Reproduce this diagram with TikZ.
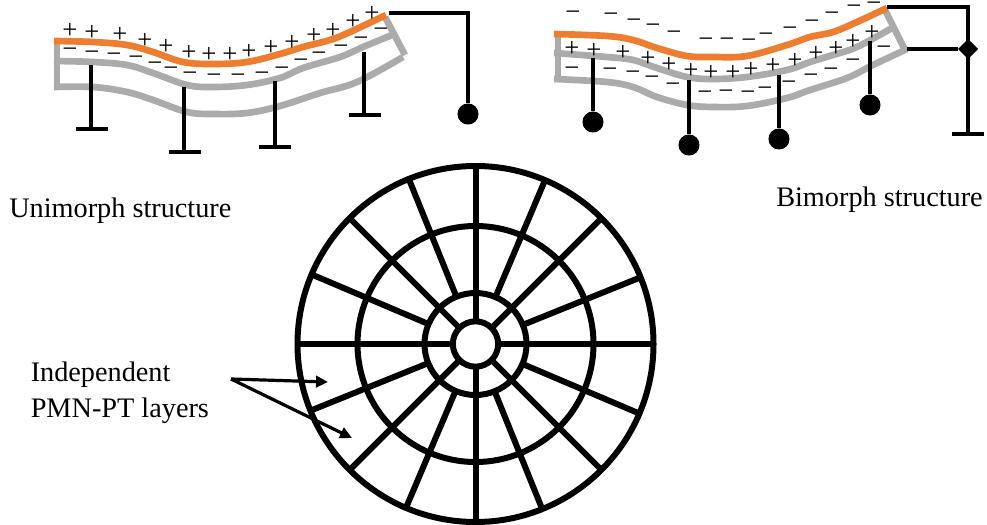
\documentclass[tikz,border=0pt]{standalone}
\usepackage{fontspec}
\setmainfont{Liberation Serif}
\usetikzlibrary{arrows.meta,shapes.geometric}
\definecolor{beamorange}{HTML}{ED7D31}
\definecolor{beamgray}{HTML}{ABABAB}
\newcommand{\chg}[2]{\foreach \p/\q in {#2} \node[chargemark] at (\p,\q) {#1};}
\tikzset{
  x=0.75pt,y=-0.75pt,
  chargemark/.style={inner sep=0pt,outer sep=0pt,font=\fontsize{20pt}{20pt}\selectfont},
  elec/.style={line width=5pt,draw=beamorange,line join=round},
  layer/.style={line width=5pt,draw=beamgray,line join=round},
  stem/.style={line width=3.6pt,draw=black},
  wire/.style={line width=3.4pt,draw=black,line join=miter},
  foot/.style={fill=black,draw=none,rectangle,inner sep=0pt,outer sep=0pt,minimum width=24pt,minimum height=3.5pt},
  dot/.style={fill=black,draw=none,circle,inner sep=0pt,outer sep=0pt,minimum size=15.8pt},
  ring/.style={circle,draw=black,line width=4.5pt,inner sep=0pt,outer sep=0pt},
  spoke/.style={line width=4.5pt,draw=black},
  lab/.style={anchor=base west,inner sep=0pt,font=\fontsize{21.2pt}{21.2pt}\selectfont},
  pointer/.style={line width=2.4pt,draw=black,-{Triangle[length=9pt,width=8.5pt]}}
}
\begin{document}
\begin{tikzpicture}
\useasboundingbox (0,0) rectangle (987,524);
% ---------- Unimorph
\draw[layer] plot[smooth,tension=0.6] coordinates {(54,61)(93,62)(127,65)(153,73)(187,85)(213,87)(247,85)(280,78)(303,68)(340,57)(363,47)(392,35)};
\draw[layer] plot[smooth,tension=0.6] coordinates {(54,87)(93,87)(127,92)(153,100)(187,112)(213,114)(247,113)(280,106)(320,93)(357,82)(403,57)};
\draw[layer] (57,40) -- (57,87);
\draw[layer] (385,17) -- (405,55);
\draw[elec] plot[smooth,tension=0.6] coordinates {(54,41)(93,42)(127,45)(153,52)(183,62)(213,64)(247,62)(280,54)(303,47)(330,40)(350,32)(386,15)};
\chg{+}{70/31,92/33,120/35,145/41,166/47,189/53,209/55,230/55,249/52,271/48,292/43,314/36,333/31,353/22,372/14}
\chg{−}{70/53,92/56,114/58,136/61,155/67,171/72,190/77,214/79,238/79,262/77,282/72,301/64,319/57,341/50,361/42,381/33}
\coordinate (ua) at (91,65); \coordinate (ub) at (184,87); \coordinate (uc) at (275,81); \coordinate (ud) at (364,52);
\node[foot] (fa) at (92,129) {}; \node[foot] (fb) at (185,152) {}; \node[foot] (fc) at (275,147) {}; \node[foot] (fd) at (365,115) {};
\draw[stem] (ua) -- (ua|-fa); \draw[stem] (ub) -- (ub|-fb); \draw[stem] (uc) -- (uc|-fc); \draw[stem] (ud) -- (ud|-fd);
\coordinate (uw) at (389,13);
\node[dot] (ug) at (468,114) {};
\draw[wire] (uw) -| (ug);
% ---------- Bimorph
\draw[layer] plot[smooth,tension=0.6] coordinates {(554,53)(607,57)(633,60)(657,68)(687,77)(713,79)(747,77)(787,70)(810,62)(833,55)(857,47)(892,28)};
\draw[layer] plot[smooth,tension=0.6] coordinates {(554,79)(607,82)(633,87)(657,97)(687,105)(713,107)(747,106)(787,98)(810,90)(847,78)(873,65)(907,49)};
\draw[layer] (558,33) -- (558,80);
\draw[layer] (885,10) -- (905,50);
\draw[elec] plot[smooth,tension=0.6] coordinates {(554,34)(607,36)(633,40)(657,48)(687,56)(713,57)(747,56)(787,45)(810,37)(833,32)(857,22)(887,8)};
\chg{+}{572/49,594/51,623/53,648/59,669/65,691/71,711/73,733/73,751/70,773/66,795/61,816/54,836/49,853/42,872/33}
\chg{−}{573/16,611/18,634/24,653/29,674/36,706/43,727/43,749/44,766/38,790/32,812/25,832/17,854/10,874/7}
\chg{−}{572/72,610/73,633/76,652/81,673/88,705/96,726/95,748/96,765/92,789/86,811/79,831/73,853/64,884/51}
\node[dot] (ba) at (593,122) {}; \node[dot] (bb) at (689,145) {}; \node[dot] (bc) at (779,139) {}; \node[dot] (bd) at (870,105) {};
\coordinate (bat) at (593,58); \coordinate (bbt) at (689,80); \coordinate (bct) at (779,75); \coordinate (bdt) at (870,41);
\draw[stem] (bat) -- (ba); \draw[stem] (bbt) -- (bb); \draw[stem] (bct) -- (bc); \draw[stem] (bdt) -- (bd);
\coordinate (bw1) at (887,7); \coordinate (bw2) at (907,49);
\node[foot] (bg) at (968,134) {};
\node[diamond,fill=black,inner sep=0pt,outer sep=0pt,minimum size=15pt] (bj) at (968,49) {};
\draw[wire] (bw1) -| (bg.north);
\draw[wire] (bw2) -- (bj);
% ---------- Labels
\node[lab] (t1) at (9,217) {Unimorph structure};
\node[lab] (t2) at (776,206) {Bimorph structure};
\node[lab] (t3) at (30.5,381) {Independent};
\node[lab] (t4) at (30.5,417) {PMN-PT layers};
% ---------- Disc
\node[ring,minimum size=267pt] (outer) at (475.5,344) {};
\node[ring,minimum size=177pt] (mid) at (475.5,344) {};
\node[ring,minimum size=76.5pt] (inner) at (475.5,344) {};
\node[ring,minimum size=34pt] (hub) at (475.5,344) {};
\foreach \a in {0,45,...,315} \draw[spoke] (hub.\a) -- (outer.\a);
\foreach \a in {22.5,67.5,...,337.5} \draw[spoke] (inner.\a) -- (outer.\a);
% ---------- Pointers
\coordinate (src) at (231,379);
\coordinate (p1) at (328,382);
\coordinate (p2) at (352,438);
\draw[pointer] (src) -- (p1);
\draw[pointer] (src) -- (p2);
\end{tikzpicture}
\end{document}
